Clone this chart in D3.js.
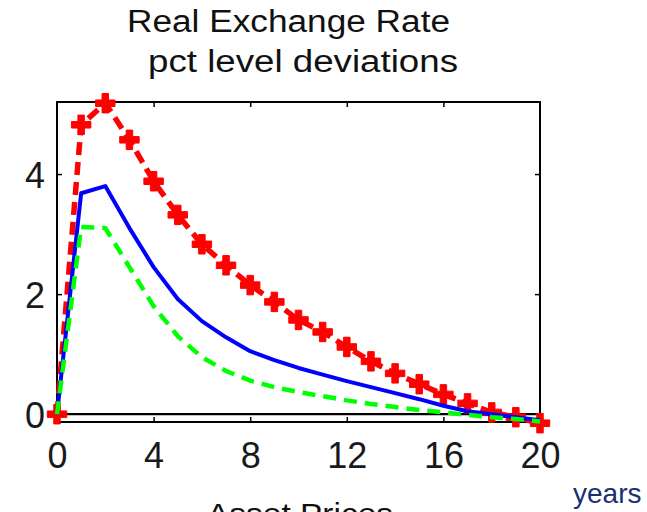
<!DOCTYPE html>
<html>
<head>
<meta charset="utf-8">
<script src="https://cdn.jsdelivr.net/npm/d3@7"></script>
<style>
html,body{margin:0;padding:0;background:#fff;}
svg{display:block;}
text{font-family:"Liberation Sans", Arial, sans-serif;}
</style>
</head>
<body>
<svg id="chart" width="647" height="512"></svg>
<script>
const years = [0,1,2,3,4,5,6,7,8,9,10,11,12,13,14,15,16,17,18,19,20];
const redSeries   = [0, 4.82, 5.18, 4.57, 3.88, 3.32, 2.83, 2.48, 2.15, 1.87, 1.57, 1.37, 1.12, 0.88, 0.68, 0.50, 0.33, 0.18, 0.03, -0.05, -0.15];
const blueSeries  = [0, 3.68, 3.80, 3.10, 2.45, 1.92, 1.55, 1.28, 1.05, 0.90, 0.77, 0.66, 0.55, 0.45, 0.35, 0.25, 0.14, 0.05, 0.00, -0.05, -0.10];
const greenSeries = [0, 3.12, 3.10, 2.45, 1.80, 1.30, 0.95, 0.72, 0.56, 0.45, 0.37, 0.30, 0.23, 0.17, 0.12, 0.07, 0.03, -0.01, -0.05, -0.08, -0.12];
const xTicks = [0,4,8,12,16,20];
const yTicks = [0,2,4];
const titleLines = ["Real Exchange Rate", "pct level deviations"];
const xLabel = "years";
const bottomLabel = "Asset Prices";

const svg = d3.select("#chart");
const x = d3.scaleLinear().domain([0,20]).range([57,540]);
const y = d3.scaleLinear().domain([-0.13,5.2]).range([422,102]);

// titles
svg.append("text").attr("x",127).attr("y",32).attr("textLength",323).attr("lengthAdjust","spacingAndGlyphs")
  .attr("font-size",31).attr("fill","#111").text(titleLines[0]);
svg.append("text").attr("x",148).attr("y",72).attr("textLength",310).attr("lengthAdjust","spacingAndGlyphs")
  .attr("font-size",31).attr("fill","#111").text(titleLines[1]);

// frame
svg.append("rect").attr("x",x(0)).attr("y",y(5.2)).attr("width",x(20)-x(0)).attr("height",y(-0.13)-y(5.2))
  .attr("fill","none").attr("stroke","#000").attr("stroke-width",2);
// zero line
svg.append("line").attr("x1",x(0)).attr("x2",x(20)).attr("y1",y(0)).attr("y2",y(0))
  .attr("stroke","#000").attr("stroke-width",2.2);

// axes ticks
const inner = [4,8,12,16];
const gB = svg.append("g").attr("transform",`translate(0,${y(-0.13)})`)
  .call(d3.axisBottom(x).tickValues(xTicks).tickSize(-5).tickPadding(20).tickFormat(d3.format("d")));
const gT = svg.append("g").attr("transform",`translate(0,${y(5.2)})`)
  .call(d3.axisTop(x).tickValues(inner).tickSize(-5).tickFormat(""));
const gL = svg.append("g").attr("transform",`translate(${x(0)},0)`)
  .call(d3.axisLeft(y).tickValues(yTicks).tickSize(-5).tickPadding(12).tickFormat(d3.format("d")));
const gR = svg.append("g").attr("transform",`translate(${x(20)},0)`)
  .call(d3.axisRight(y).tickValues([2,4]).tickSize(-5).tickFormat(""));
[gB,gT,gL,gR].forEach(g=>{
  g.select(".domain").remove();
  g.selectAll(".tick line").attr("stroke","#000").attr("stroke-width",1.5);
  g.selectAll("text").attr("font-size",36).attr("fill","#1a1a1a").attr("font-family","Liberation Sans, Arial, sans-serif");
});
gB.selectAll(".tick line").filter(d=>d===0||d===20).remove();
gL.selectAll(".tick line").filter(d=>d===0).remove();
gB.selectAll("text").attr("dy","0.71em");
gL.selectAll("text").attr("dy","0.36em");

const line = d3.line().x((d,i)=>x(years[i])).y(d=>y(d));

// red dashed with crosses
svg.append("path").datum(redSeries).attr("d",line).attr("fill","none")
  .attr("stroke","#ff0000").attr("stroke-width",5.5).attr("stroke-dasharray","13,7");
svg.append("g").selectAll("path").data(redSeries).join("path")
  .attr("transform",(d,i)=>`translate(${x(years[i])},${y(d)})`)
  .attr("d",d3.symbol().type(d3.symbolCross).size(210)).attr("fill","#ff0000")
  .attr("stroke","#ff0000").attr("stroke-width",1).attr("stroke-linejoin","round");
// blue solid
svg.append("path").datum(blueSeries).attr("d",line).attr("fill","none")
  .attr("stroke","#0000ff").attr("stroke-width",4).attr("stroke-linejoin","round");
// green dashed
svg.append("path").datum(greenSeries).attr("d",line).attr("fill","none")
  .attr("stroke","#00ff00").attr("stroke-width",4.5).attr("stroke-dasharray","13,8");

// labels
svg.append("text").attr("x",573).attr("y",503).attr("font-size",28).attr("fill","#1b2f6e").text(xLabel);
svg.append("text").attr("x",207).attr("y",524).attr("textLength",186).attr("lengthAdjust","spacingAndGlyphs")
  .attr("font-size",30).attr("fill","#111").text(bottomLabel);
</script>
</body>
</html>
